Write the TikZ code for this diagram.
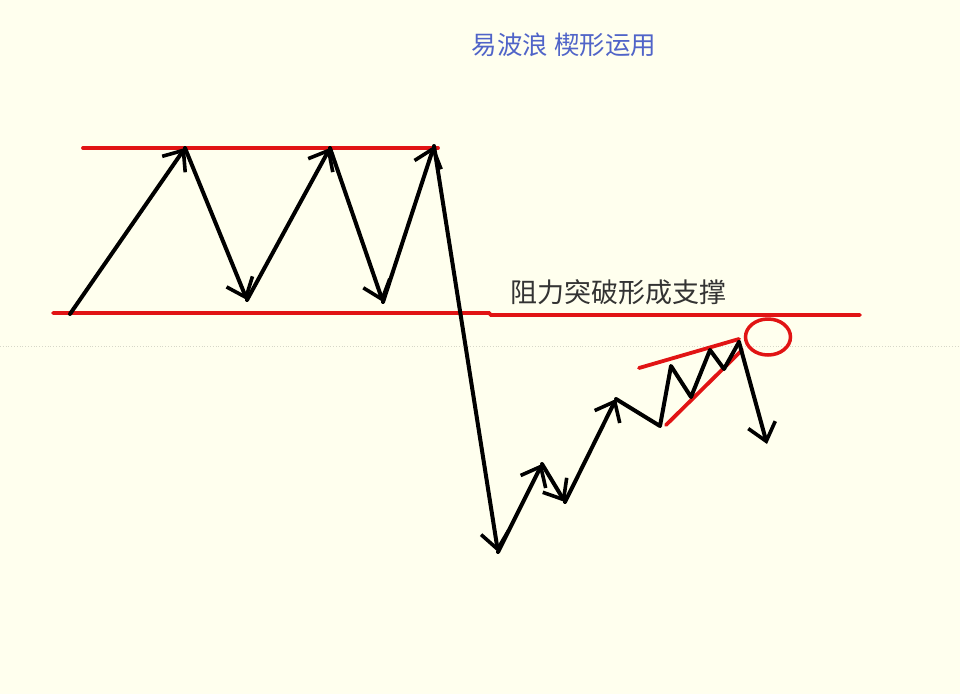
\documentclass[tikz,border=0pt]{standalone}
\usepackage{fontspec}
\newfontfamily\cjk{Noto Sans CJK SC}
\usetikzlibrary{arrows.meta,shapes.geometric}
\definecolor{paper}{RGB}{255,255,238}
\definecolor{title}{RGB}{80,100,200}
\definecolor{redline}{RGB}{225,20,20}
\definecolor{guide}{RGB}{215,215,200}
\tikzset{
  wave/.style={line width=4pt,line cap=round,line join=round,black},
  wavearrow/.style={wave,-{Straight Barb[length=17pt,width=28pt,line width=3.6pt]}},
  level/.style={line width=3.8pt,redline,line cap=round},
}
\begin{document}
\begin{tikzpicture}[x=1pt,y=-1pt]
\useasboundingbox[fill=paper] (0,0) rectangle (960,694);
            % Points
\coordinate (g1) at (0,346);
\coordinate (g2) at (960,346);
\coordinate (t1) at (83,148);
\coordinate (t2) at (438,148);
\coordinate (b1) at (53,313);
\coordinate (b2) at (489,313);
\coordinate (b3) at (491,315);
\coordinate (b4) at (860,315);
\coordinate (p0) at (70,314);
\coordinate (p1) at (185,148);
\coordinate (p2) at (247,300);
\coordinate (p3) at (330,148);
\coordinate (p4) at (383,302);
\coordinate (p5) at (434,146);
\coordinate (p6) at (498,552);
\coordinate (p7) at (542,464);
\coordinate (p8) at (565,502);
\coordinate (p9) at (616,399);
\coordinate (q0) at (660,426);
\coordinate (q1) at (671,366);
\coordinate (q2) at (691,397);
\coordinate (q3) at (710,350);
\coordinate (q4) at (724,369);
\coordinate (q5) at (739,342);
\coordinate (q6) at (767,444);
\coordinate (w1) at (639,368);
\coordinate (w2) at (739,339);
\coordinate (w3) at (666,425);
\coordinate (w4) at (742,350);
%Texts
\node (head) at (564,45) {\cjk\fontsize{25.5}{25.5}\selectfont\color{title}易波浪 楔形运用};
\node (note) at (618,292) {\cjk\fontsize{27}{27}\selectfont\color{black!80}阻力突破形成支撑};
%Guide
\draw[guide,line width=0.8pt,dotted] (g1) -- (g2);
%Levels
\draw[level] (t1) -- (t2);
\draw[level] (b1) -- (b2) -- (b3) -- (b4);
\draw[level] (w1) -- (w2);
\draw[level] (w3) -- (w4);
\node (ring) at (768,337) [draw=redline,line width=3.5pt,ellipse,minimum width=45pt,minimum height=36pt,inner sep=0pt] {};
%Waves
\draw[wavearrow] (p0) -- (p1);
\draw[wavearrow] (p1) -- (p2);
\draw[wavearrow] (p2) -- (p3);
\draw[wavearrow] (p3) -- (p4);
\draw[wavearrow] (p4) -- (p5);
\draw[wavearrow] (p5) -- (p6);
\draw[wavearrow] (p6) -- (p7);
\draw[wavearrow] (p7) -- (p8);
\draw[wavearrow] (p8) -- (p9);
\draw[wave] (p9) -- (q0) -- (q1) -- (q2) -- (q3) -- (q4) -- (q5);
\draw[wavearrow] (q5) -- (q6);
\end{tikzpicture}
\end{document}
